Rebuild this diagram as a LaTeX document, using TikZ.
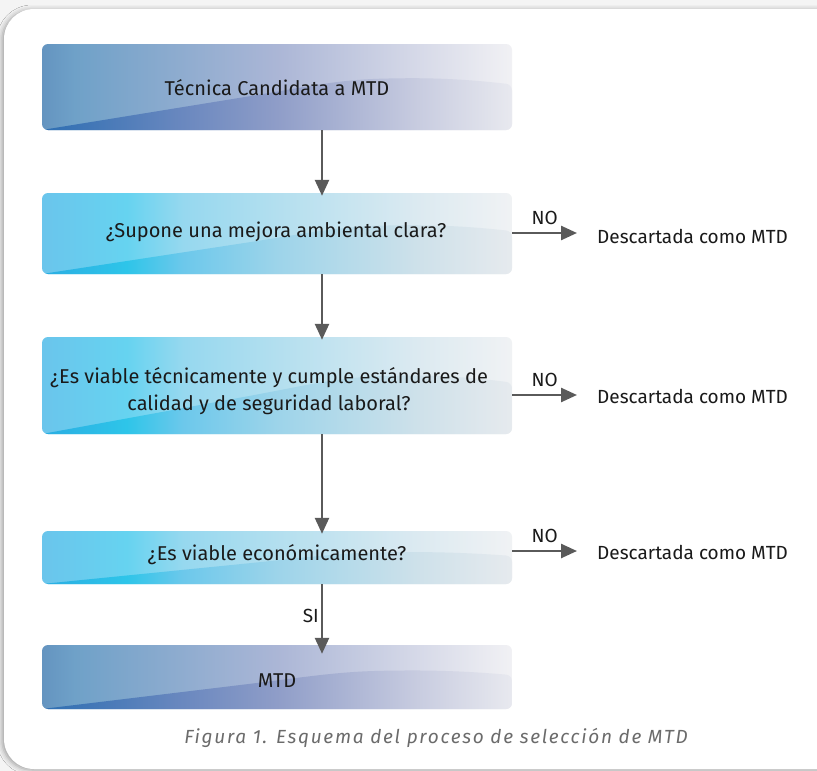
\documentclass[tikz,border=0pt]{standalone}
\usepackage{fontspec}
\setmainfont{Fira Sans}
\usetikzlibrary{arrows.meta,shadows.blur,calc}

\definecolor{bggray}{HTML}{F4F4F4}
\definecolor{arrowgray}{HTML}{5A5A5A}
\definecolor{txt}{HTML}{1A1A1A}
\definecolor{capgray}{HTML}{6B6B6B}

\definecolor{bta}{HTML}{6494C0}
\definecolor{btb}{HTML}{6FA1C8}
\definecolor{btc}{HTML}{ABB6D6}
\definecolor{btd}{HTML}{D6D9E8}
\definecolor{bte}{HTML}{F1F1F4}
\definecolor{bwa}{HTML}{2D6EB2}
\definecolor{bwb}{HTML}{6A88BF}
\definecolor{bwc}{HTML}{8F9DC8}
\definecolor{bwd}{HTML}{C8CCE0}
\definecolor{bwe}{HTML}{E8E9EF}

\definecolor{cta}{HTML}{6AC5EC}
\definecolor{ctb}{HTML}{66D3F0}
\definecolor{ctc}{HTML}{96D8EF}
\definecolor{ctd}{HTML}{B3DFEF}
\definecolor{cte}{HTML}{DCEAF1}
\definecolor{ctf}{HTML}{F0F2F4}
\definecolor{cwa}{HTML}{2AADE2}
\definecolor{cwb}{HTML}{2EC5E9}
\definecolor{cwc}{HTML}{6CC8EB}
\definecolor{cwd}{HTML}{9DD4EA}
\definecolor{cwe}{HTML}{CEE1EA}
\definecolor{cwf}{HTML}{E6EAEE}

\pgfdeclarehorizontalshading{bluetop}{100bp}{color(0bp)=(bta); color(25bp)=(bta); color(28.5bp)=(btb); color(50bp)=(btc); color(65bp)=(btd); color(75bp)=(bte); color(100bp)=(bte)}
\pgfdeclarehorizontalshading{bluewedge}{100bp}{color(0bp)=(bwa); color(25bp)=(bwa); color(40bp)=(bwb); color(50bp)=(bwc); color(65bp)=(bwd); color(75bp)=(bwe); color(100bp)=(bwe)}
\pgfdeclarehorizontalshading{cyantop}{100bp}{color(0bp)=(cta); color(25bp)=(cta); color(34bp)=(ctb); color(40bp)=(ctc); color(50bp)=(ctd); color(65bp)=(cte); color(75bp)=(ctf); color(100bp)=(ctf)}
\pgfdeclarehorizontalshading{cyanwedge}{100bp}{color(0bp)=(cwa); color(25bp)=(cwa); color(34bp)=(cwb); color(40bp)=(cwc); color(50bp)=(cwd); color(65bp)=(cwe); color(75bp)=(cwf); color(100bp)=(cwf)}

\newcommand\myboxshade[2]{%
  \shade[shading=#1] (path picture bounding box.south west) rectangle (path picture bounding box.north east);
  \shade[shading=#2] let \p1=(path picture bounding box.south west), \p2=(path picture bounding box.north east), \n1={\x2-\x1}, \n2={\y2-\y1} in
    (\x1,\y1) -- ({\x1+0.45*\n1},{\y1+0.40*\n2})
    .. controls ({\x1+0.58*\n1},{\y1+0.52*\n2}) and ({\x1+0.64*\n1},{\y1+0.59*\n2}) .. ({\x1+0.75*\n1},{\y1+0.60*\n2})
    .. controls ({\x1+0.87*\n1},{\y1+0.61*\n2}) and ({\x1+0.95*\n1},{\y1+0.56*\n2}) .. (\x2,{\y1+0.53*\n2})
    -- (\x2,\y1) -- cycle;
}

\tikzset{
  flowbox/.style={rectangle, rounded corners=6pt, minimum width=470pt, inner sep=0pt},
  bluebox/.style={flowbox, path picture={\myboxshade{bluetop}{bluewedge}}},
  cyanbox/.style={flowbox, path picture={\myboxshade{cyantop}{cyanwedge}}},
  boxtext/.style={font=\fontsize{20}{27}\selectfont, text=txt, align=center, inner sep=0pt},
  sidetext/.style={font=\fontsize{19}{21}\selectfont, text=txt, anchor=west, inner sep=0pt},
  nolabel/.style={font=\fontsize{19}{21}\selectfont, text=txt, inner sep=0pt},
  flowarrow/.style={draw=arrowgray, line width=2.5pt, -{Triangle[length=16pt,width=14pt]}},
}

\begin{document}
\begin{tikzpicture}[x=1pt,y=-1pt]
\useasboundingbox (0,0) rectangle (817,771);
\fill[bggray] (0,0) rectangle (817,771);
\fill[white, rounded corners=30pt, blur shadow={shadow xshift=-2pt, shadow yshift=-1pt, shadow blur radius=5pt, shadow opacity=35}] (4,9) rectangle (860,769);

\node[bluebox, minimum height=86pt] (b1) at (277,87) {};
\node[cyanbox, minimum height=81pt] (b2) at (277,233.5) {};
\node[cyanbox, minimum height=97pt] (b3) at (277,385.5) {};
\node[cyanbox, minimum height=53pt] (b4) at (277,557.5) {};
\node[bluebox, minimum height=64pt] (b5) at (277,677) {};

\node[boxtext] (t1) at (277,88) {Técnica Candidata a MTD};
\node[boxtext] (t2) at (276,232) {¿Supone una mejora ambiental clara?};
\node[boxtext] (t3) at (269,391) {¿Es viable técnicamente y cumple estándares de\\calidad y de seguridad laboral?};
\node[boxtext] (t4) at (277,555) {¿Es viable económicamente?};
\node[boxtext] (t5) at (277,681) {MTD};

\coordinate (ax) at (322,0);
\draw[flowarrow, shorten >=-3pt] (b1.south -| ax) -- (b2.north -| ax);
\draw[flowarrow, shorten >=-3pt] (b2.south -| ax) -- (b3.north -| ax);
\draw[flowarrow, shorten >=-3pt] (b3.south -| ax) -- (b4.north -| ax);
\draw[flowarrow, shorten >=-9pt] (b4.south -| ax) -- (b5.north -| ax) node[pos=0.52, left=2pt, nolabel] (si) {SI};

\coordinate (n2) at (577,233);
\coordinate (n3) at (577,395);
\coordinate (n4) at (577,551);
\draw[flowarrow] (b2.east |- n2) -- (n2) node[midway, above=7pt, nolabel] (no2) {NO};
\draw[flowarrow] (b3.east |- n3) -- (n3) node[midway, above=7pt, nolabel] (no3) {NO};
\draw[flowarrow] (b4.east |- n4) -- (n4) node[midway, above=7pt, nolabel] (no4) {NO};

\node[sidetext] (d2) at (597,236) {Descartada como MTD};
\node[sidetext] (d3) at (597,396) {Descartada como MTD};
\node[sidetext] (d4) at (597,552) {Descartada como MTD};

\node[font=\fontsize{19}{21}\selectfont\itshape\addfontfeatures{LetterSpace=9}, text=capgray, inner sep=0pt] (cap) at (436,738) {Figura 1. Esquema del proceso de selección de MTD};
\end{tikzpicture}
\end{document}
